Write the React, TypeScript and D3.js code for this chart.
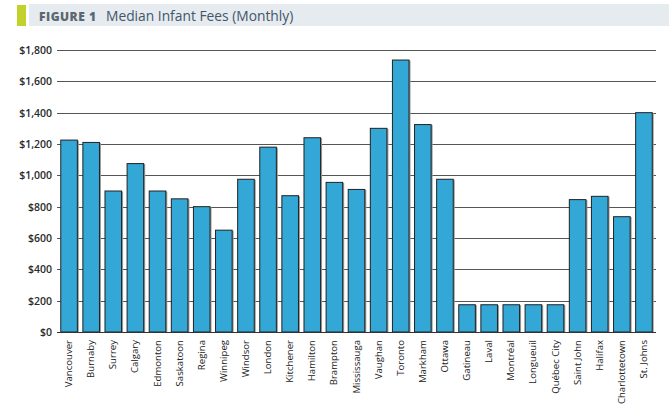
import React from "react";
import * as d3 from "d3";

const cities = ["Vancouver","Burnaby","Surrey","Calgary","Edmonton","Saskatoon","Regina","Winnipeg","Windsor","London","Kitchener","Hamilton","Brampton","Mississauga","Vaughan","Toronto","Markham","Ottawa","Gatineau","Laval","Montréal","Longueuil","Québec City","Saint John","Halifax","Charlottetown","St. Johns"];
const fees = [1225,1210,900,1075,900,850,800,650,975,1180,870,1240,955,910,1300,1736,1324,975,174,174,174,174,174,845,866,736,1400];
const yTicks = [0,200,400,600,800,1000,1200,1400,1600,1800];

const W = 669, H = 405;
const left = 58, right = 655, top = 50, bottom = 332;

export default function App() {
  const x = d3.scaleBand<string>().domain(cities).range([left, right]).paddingInner(0.25).paddingOuter(0.125);
  const y = d3.scaleLinear().domain([0, 1800]).range([bottom, top]);
  const fmt = (v: number) => "$" + d3.format(",")(v);
  const font = "'Open Sans', sans-serif";
  return (
    <div style={{ position: "absolute", left: 0, top: 0 }}>
      <svg width={W} height={H} style={{ display: "block", background: "#fff" }}>
        <rect x={17} y={5} width={9} height={21} fill="#c3d12b" />
        <rect x={29} y={4} width={640} height={22} fill="#e5ebef" />
        <text x={39} y={20.5} fontFamily={font} fontWeight={800} fontSize={12} fill="#5c6670" letterSpacing={0.5}>FIGURE 1</text>
        <text x={106} y={21} fontFamily={font} fontSize={13.8} fill="#44556a">Median Infant Fees (Monthly)</text>
        {yTicks.map(t => (
          <g key={t}>
            <line x1={left - 1} x2={right + 1} y1={Math.round(y(t)) + 0.5} y2={Math.round(y(t)) + 0.5} stroke={t === 0 ? "#333" : "#555"} strokeWidth={1} />
            <text x={52} y={y(t) + 4} textAnchor="end" fontFamily={font} fontSize={10.5} fontWeight={600} fill="#2a2a2a">{fmt(t)}</text>
          </g>
        ))}
        {cities.map((c, i) => {
          const bx = x(c)!;
          const bw = x.bandwidth();
          const yt = y(fees[i]);
          return (
            <g key={c}>
              <rect x={bx + 1.5} y={yt + 0.5} width={bw} height={bottom - yt} fill="#9a9a9a" />
              <rect x={bx} y={yt} width={bw} height={bottom - yt} fill="#33a8d6" stroke="#222" strokeWidth={1} />
            </g>
          );
        })}
        <line x1={left - 1} x2={right + 1} y1={bottom + 0.5} y2={bottom + 0.5} stroke="#333" strokeWidth={1.2} />
        {cities.map(c => {
          const cx = x(c)! + x.bandwidth() / 2;
          return (
            <text key={c} transform={`translate(${cx + 3},340) rotate(-90)`} textAnchor="end" fontFamily={font} fontSize={9.6} fill="#222">{c}</text>
          );
        })}
      </svg>
    </div>
  );
}
